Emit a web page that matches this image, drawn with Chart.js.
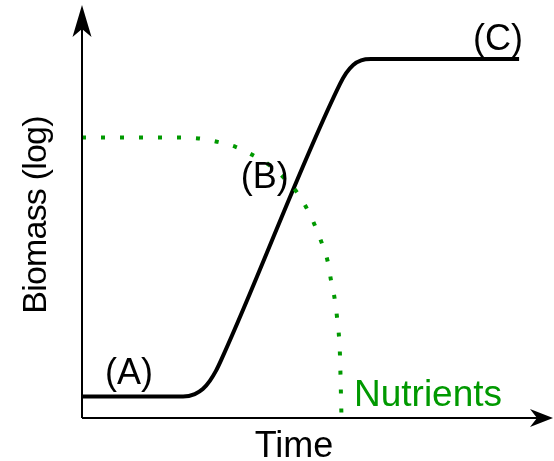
<!DOCTYPE html>
<html>
<head>
<meta charset="utf-8">
<script src="https://cdn.jsdelivr.net/npm/chart.js@4/dist/chart.umd.min.js"></script>
<style>
    html, body { margin: 0; padding: 0; background: #fff; }
    #growthChart { display: block; }
</style>
</head>
<body>
<canvas id="growthChart" width="554" height="461"></canvas>
<script>
// biomass curve (log scale, arbitrary units 0-100)
var biomassTime = [0, 21.5, 24.0, 25.7, 27.2, 28.5, 29.6, 54.9, 56.2, 57.7, 59.4, 61.5, 93.0];
var biomassLog  = [5.2, 5.2, 5.8, 7.0, 9.0, 11.4, 14.0, 80.9, 83.5, 85.5, 86.6, 86.9, 86.9];

// nutrient curve
var nutrientTime  = [0, 20.6, 24.8, 28.7, 32.8, 36.4, 39.8, 43.0, 45.7, 47.9, 49.6, 51.1, 52.3, 53.0, 53.8, 54.3, 54.7, 54.9, 55.0, 55.1, 55.2];
var nutrientLevel = [67.9, 67.9, 67.7, 66.9, 65.6, 63.6, 61.3, 58.1, 54.7, 50.6, 46.5, 42.1, 37.8, 33.2, 28.6, 24.0, 19.4, 14.8, 10.2, 5.6, 0.5];

// phase labels and where they sit (data units)
var phaseLabels = ['(A)', '(B)', '(C)'];
var phaseX = [10.0, 38.9, 88.5];
var phaseY = [8.3, 55.7, 89.1];

var green = '#009900';

function toPoints(xs, ys) {
    return xs.map(function(x, i) { return { x: x, y: ys[i] }; });
}

function arrowHead(ctx, tipX, tipY, dx, dy, len, half, notch) {
    // dx,dy = unit direction of the arrow
    var bx = tipX - dx * len, by = tipY - dy * len;
    var nx = tipX - dx * notch, ny = tipY - dy * notch;
    ctx.beginPath();
    ctx.moveTo(tipX, tipY);
    ctx.lineTo(bx - dy * half, by + dx * half);
    ctx.lineTo(nx, ny);
    ctx.lineTo(bx + dy * half, by - dx * half);
    ctx.closePath();
    ctx.fill();
}

var sketchPlugin = {
    id: 'sketch',
    afterDraw: function(chart) {
        var ctx = chart.ctx;
        var xs = chart.scales.x, ys = chart.scales.y;
        var left = chart.chartArea.left, bottom = chart.chartArea.bottom;
        ctx.save();

        // axes
        ctx.strokeStyle = '#000';
        ctx.fillStyle = '#000';
        ctx.lineWidth = 2;
        ctx.beginPath();
        ctx.moveTo(left, bottom);
        ctx.lineTo(left, 25);
        ctx.moveTo(left, bottom);
        ctx.lineTo(540, bottom);
        ctx.stroke();
        arrowHead(ctx, left, 5, 0, -1, 32, 9.5, 24);
        arrowHead(ctx, 553, bottom, 1, 0, 23, 9, 16);

        // axis titles
        ctx.font = '36px "Liberation Sans", Arial, sans-serif';
        ctx.textAlign = 'center';
        ctx.textBaseline = 'alphabetic';
        ctx.fillText('Time', 294, 457);
        ctx.font = '34px "Liberation Sans", Arial, sans-serif';
        ctx.letterSpacing = '-0.8px';
        ctx.save();
        ctx.translate(46, 215);
        ctx.rotate(-Math.PI / 2);
        ctx.fillText('Biomass (log)', 0, 0);
        ctx.restore();
        ctx.letterSpacing = '0px';

        // phase labels
        ctx.font = '36px "Liberation Sans", Arial, sans-serif';
        phaseLabels.forEach(function(t, i) {
            ctx.fillText(t, xs.getPixelForValue(phaseX[i]), ys.getPixelForValue(phaseY[i]));
        });

        ctx.fillStyle = green;
        ctx.textAlign = 'left';
        ctx.font = '37px "Liberation Sans", Arial, sans-serif';
        ctx.fillText('Nutrients', 354, 406);
        ctx.restore();
    }
};

var ctx = document.getElementById('growthChart').getContext('2d');
var growthChart = new Chart(ctx, {
    type: 'line',
    data: {
        datasets: [
            {
                label: 'Nutrients',
                data: toPoints(nutrientTime, nutrientLevel),
                borderColor: green,
                borderWidth: 4,
                borderDash: [4, 15],
                borderCapStyle: 'butt',
                pointRadius: 0,
                fill: false,
                cubicInterpolationMode: 'monotone'
            },
            {
                label: 'Biomass',
                data: toPoints(biomassTime, biomassLog),
                borderColor: '#000',
                borderWidth: 4,
                pointRadius: 0,
                fill: false,
                cubicInterpolationMode: 'monotone'
            }
        ]
    },
    options: {
        responsive: false,
        animation: false,
        events: [],
        layout: {
            padding: { left: 82, right: 2, top: 5, bottom: 43 }
        },
        scales: {
            x: { type: 'linear', min: 0, max: 100, display: false },
            y: { type: 'linear', min: 0, max: 100, display: false }
        },
        plugins: {
            legend: { display: false },
            tooltip: { enabled: false }
        }
    },
    plugins: [sketchPlugin]
});
</script>
</body>
</html>
